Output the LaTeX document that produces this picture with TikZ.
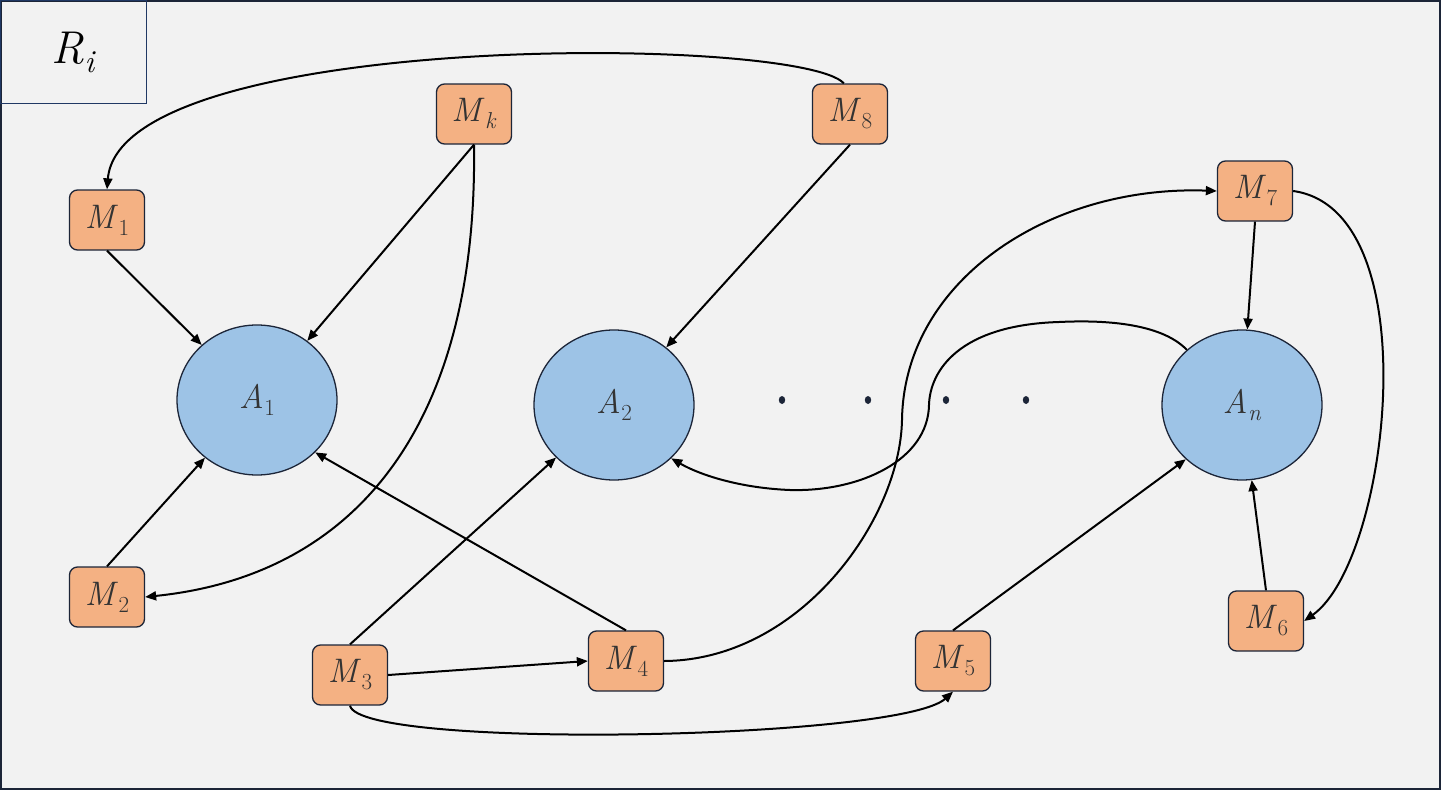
\documentclass[tikz,border=0pt]{standalone}
\usetikzlibrary{arrows.meta,shapes.geometric}
\definecolor{bgc}{HTML}{F2F2F2}
\definecolor{mfill}{HTML}{F4B183}
\definecolor{afill}{HTML}{9DC3E6}
\definecolor{edgec}{HTML}{1C2538}
\definecolor{txtc}{HTML}{333333}
\definecolor{framec}{HTML}{203864}
% #1 main letter, #2 subscript
\newcommand\lblsub[2]{{\fontsize{34}{38}\selectfont\textit{#1}}\kern0.5pt\raisebox{-7pt}{\fontsize{23}{26}\selectfont #2}}
\newcommand\bigsub[2]{{\fontsize{46}{50}\selectfont\textit{#1}}\kern0.5pt\raisebox{-9pt}{\fontsize{32}{36}\selectfont #2}}
\begin{document}
\begin{tikzpicture}[x=1pt,y=-1pt,
  mbox/.style={draw=edgec,fill=mfill,line width=1.3pt,rounded corners=8pt,
    minimum width=75pt,minimum height=60pt,inner sep=0pt,text=txtc},
  anode/.style={ellipse,draw=edgec,fill=afill,line width=1.3pt,
    minimum width=160pt,minimum height=150pt,inner sep=0pt,text=txtc},
  conn/.style={line width=2pt,black},
  arr/.style={conn,-{Triangle[length=11pt,width=9pt]}},
  dotc/.style={fill=edgec}]
\useasboundingbox (0,0) rectangle (1441,790);
\fill[bgc] (0,0) rectangle (1441,790);
\draw[line width=2pt,edgec] (1,1) rectangle (1440,789);
\node[draw=framec,line width=1.3pt,minimum width=146pt,minimum height=103pt,
  inner sep=0pt,anchor=north west] (R) at (0,0) {\bigsub{R}{\textit{i}}};

% M nodes
\node[mbox] (Mk) at (474,114) {\lblsub{M}{\textit{k}}};
\node[mbox] (M8) at (850,114) {\lblsub{M}{8}};
\node[mbox] (M1) at (107,220) {\lblsub{M}{1}};
\node[mbox] (M7) at (1255,191) {\lblsub{M}{7}};
\node[mbox] (M2) at (107,597) {\lblsub{M}{2}};
\node[mbox] (M3) at (350,675) {\lblsub{M}{3}};
\node[mbox] (M4) at (626,661) {\lblsub{M}{4}};
\node[mbox] (M5) at (953,661) {\lblsub{M}{5}};
\node[mbox] (M6) at (1266,621) {\lblsub{M}{6}};

% A nodes
\node[anode] (A1) at (257,400) {\lblsub{A}{1}};
\node[anode] (A2) at (614,405) {\lblsub{A}{2}};
\node[anode] (An) at (1242,405) {\lblsub{A}{\textit{n}}};

% dots
\foreach \xx/\nm in {782/d1,868/d2,946/d3,1026/d4}{
  \coordinate (\nm) at (\xx,400);
  \fill[dotc] (\nm) ellipse (3.2pt and 4pt);
}

% connectors
\draw[arr] (M8.north west) ++(32,0) coordinate (m8t)
  .. controls (800,35) and (120,30) .. (M1.north);
\draw[arr] (M1.south) -- (A1);
\draw[arr] (Mk.south) -- (A1);
\draw[arr] (Mk.south) .. controls (478,420) and (360,575) .. (M2.east);
\draw[arr] (M2.north) -- (A1);
\draw[arr] (M4.north) -- (A1.-42);
\draw[arr] (M3.north) -- (A2);
\draw[arr] (M3.east) -- (M4.west);
\draw[arr] (M3.south) .. controls (360,750) and (900,740) .. (M5.south);
\draw[arr] (M4.east) .. controls (800,660) and (900,520) .. (902,420)
  .. controls (904,280) and (1050,185) .. (M7.west);
\draw[arr] (An.135) .. controls (1160,322) and (1100,320) .. (1059,322)
  .. controls (960,325) and (930,370) .. (929,405)
  .. controls (928,460) and (860,492) .. (790,490)
  .. controls (740,488) and (700,475) .. (A2.-43);
\draw[arr] (M8.south) -- (A2);
\draw[arr] (M7.south) -- (An);
\draw[arr] (M7.east) .. controls (1430,210) and (1390,560) .. (M6.east);
\draw[arr] (M6.north) -- (An);
\draw[arr] (M5.north) -- (An.-136);
\end{tikzpicture}
\end{document}
